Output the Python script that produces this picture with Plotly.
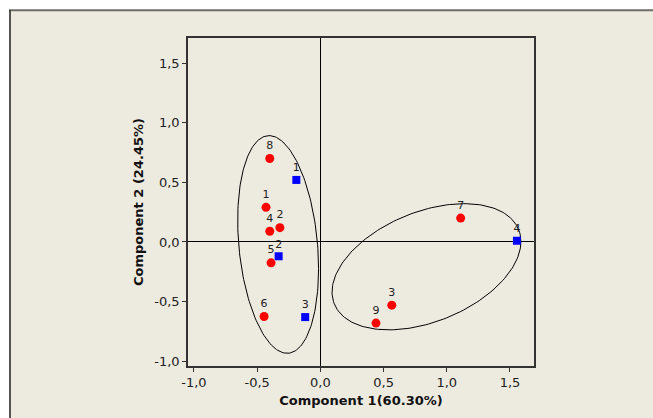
import numpy as np
import plotly.graph_objects as go

# Red circles (group A)
red_labels = ["8", "1", "4", "2", "5", "6", "9", "3", "7"]
red_x = [-0.40, -0.43, -0.40, -0.32, -0.39, -0.445, 0.44, 0.565, 1.11]
red_y = [0.70, 0.29, 0.09, 0.12, -0.175, -0.625, -0.68, -0.53, 0.20]

# Blue squares (group B)
blue_labels = ["1", "2", "3", "4"]
blue_x = [-0.19, -0.33, -0.12, 1.555]
blue_y = [0.52, -0.12, -0.63, 0.01]

# Ellipses: centre x, centre y, half-width x, half-height y, correlation
ell_cx = [-0.334, 0.8395]
ell_cy = [-0.021, -0.208]
ell_sx = [0.320, 0.747]
ell_sy = [0.9125, 0.529]
ell_r = [-0.222, 0.40]

tick_vals_x = [-1.0, -0.5, 0.0, 0.5, 1.0, 1.5]
tick_text_x = ["-1,0", "-0,5", "0,0", "0,5", "1,0", "1,5"]
tick_vals_y = [-1.0, -0.5, 0.0, 0.5, 1.0, 1.5]
tick_text_y = ["-1,0", "-0,5", "0,0", "0,5", "1,0", "1,5"]

FONT = "DejaVu Sans"
BEIGE = "#EDEAE0"

fig = go.Figure()

t = np.linspace(0, 2 * np.pi, 200)
for cx, cy, sx, sy, r in zip(ell_cx, ell_cy, ell_sx, ell_sy, ell_r):
    ex = cx + sx * np.cos(t)
    ey = cy + sy * (r * np.cos(t) + np.sqrt(1 - r * r) * np.sin(t))
    fig.add_trace(go.Scatter(x=ex, y=ey, mode="lines",
                             line=dict(color="black", width=1),
                             hoverinfo="skip", showlegend=False))

fig.add_trace(go.Scatter(x=red_x, y=red_y, mode="markers+text",
                         text=red_labels, textposition="top center",
                         textfont=dict(family=FONT, size=11, color="#222"),
                         marker=dict(symbol="circle", size=9, color="#FF0000"),
                         showlegend=False))
fig.add_trace(go.Scatter(x=blue_x, y=blue_y, mode="markers+text",
                         text=blue_labels, textposition="top center",
                         textfont=dict(family=FONT, size=11, color="#222"),
                         marker=dict(symbol="square", size=8, color="#0000FF"),
                         showlegend=False))

# outer frame (background panel)
def px_x(p):
    return (p - 188) / 346.0

def px_y(p):
    return (368 - p) / 330.0

fig.add_shape(type="rect", xref="paper", yref="paper",
              x0=px_x(9), x1=px_x(660), y0=px_y(10), y1=px_y(425),
              fillcolor=BEIGE, line=dict(width=0), layer="below")
fig.add_shape(type="line", xref="paper", yref="paper",
              x0=px_x(9), x1=px_x(660), y0=px_y(10), y1=px_y(10),
              line=dict(color="#6E6E66", width=2), layer="below")
fig.add_shape(type="line", xref="paper", yref="paper",
              x0=px_x(10), x1=px_x(10), y0=px_y(10), y1=px_y(425),
              line=dict(color="#222222", width=1.5), layer="below")

axis_common = dict(showgrid=False, zeroline=True, zerolinecolor="black",
                   zerolinewidth=1, showline=True, linecolor="#333333",
                   linewidth=1.5, mirror=True, ticks="outside", ticklen=4,
                   tickcolor="#333333",
                   tickfont=dict(family=FONT, size=13, color="#222"))

fig.update_layout(
    width=653, height=418,
    margin=dict(l=188, r=119, t=38, b=50),
    paper_bgcolor="white", plot_bgcolor="white",
    xaxis=dict(range=[-1.047, 1.69], tickvals=tick_vals_x, ticktext=tick_text_x,
               title=dict(text="<b>Component 1(60.30%)</b>",
                          font=dict(family=FONT, size=13, color="#111"),
                          standoff=7),
               **axis_common),
    yaxis=dict(range=[-1.04, 1.71], tickvals=tick_vals_y, ticktext=tick_text_y,
               title=dict(text="<b>Component 2 (24.45%)</b>",
                          font=dict(family=FONT, size=13, color="#111"),
                          standoff=8),
               **axis_common),
)

fig.write_html("out.html")
